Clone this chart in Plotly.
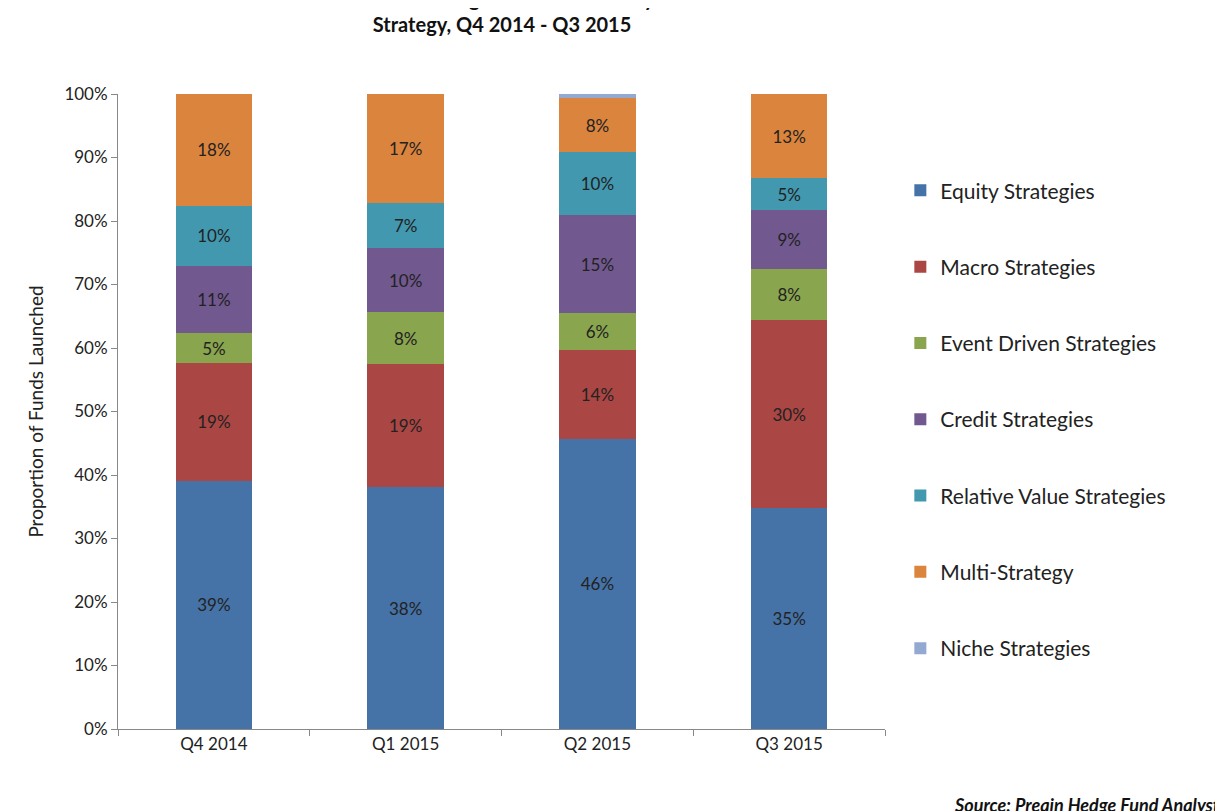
import plotly.graph_objects as go

quarters = ["Q4 2014", "Q1 2015", "Q2 2015", "Q3 2015"]
equity = [39.1, 38.1, 45.7, 34.8]
macro = [18.6, 19.4, 14.0, 29.6]
event = [4.6, 8.1, 5.8, 8.1]
credit = [10.6, 10.2, 15.4, 9.2]
relval = [9.5, 7.0, 10.0, 5.0]
multi = [17.6, 17.2, 8.4, 13.3]
niche = [0, 0, 0.7, 0]

series = [
    ("Equity Strategies", equity, "#4572A7", True),
    ("Macro Strategies", macro, "#AA4643", True),
    ("Event Driven Strategies", event, "#89A54E", True),
    ("Credit Strategies", credit, "#71588F", True),
    ("Relative Value Strategies", relval, "#4198AF", True),
    ("Multi-Strategy", multi, "#DB843D", True),
    ("Niche Strategies", niche, "#93A9CF", False),
]

fig = go.Figure()
for name, vals, color, labelled in series:
    fig.add_trace(go.Bar(
        x=quarters, y=vals, name=name, legendgroup=name,
        marker=dict(color=color, line=dict(width=0)),
        texttemplate="%{y:.0f}%" if labelled else None,
        textposition="inside" if labelled else "none",
        insidetextanchor="middle",
        textfont=dict(size=17, color="#222"),
    ))

fig.update_layout(
    barmode="stack", bargap=0.6,
    width=1223, height=811,
    font=dict(family="Lato, DejaVu Sans", size=17, color="#222"),
    paper_bgcolor="white", plot_bgcolor="white",
    margin=dict(l=110, r=346, t=86, b=90, autoexpand=False),
    yaxis=dict(range=[0, 100], dtick=10, ticksuffix="%", showgrid=False,
               showline=True, linecolor="#888", ticks="outside", ticklen=6, tickcolor="#888",
               title=dict(text="Proportion of Funds Launched", font=dict(size=19))),
    xaxis=dict(showline=True, linecolor="#888", ticks="outside", tickcolor="#888", ticklen=6,
               tickson="boundaries"),
    legend=dict(traceorder="reversed+grouped", x=1.02, y=0.88, yanchor="top",
                tracegroupgap=46, font=dict(size=21), itemwidth=30),
    uniformtext=dict(mode="show", minsize=10),
)
fig.add_annotation(text="<b>Breakdown of Hedge Fund Launches by Core<br>Strategy, Q4 2014 - Q3 2015</b>",
                   xref="paper", yref="paper", x=0.5, y=1.13, xanchor="center",
                   yanchor="middle", showarrow=False, font=dict(size=20, color="#111"))
fig.add_annotation(text="<b><i>Source: Preqin Hedge Fund Analyst</i></b>",
                   xref="paper", yref="paper", x=1.44, y=-0.12, xanchor="right",
                   yanchor="middle", showarrow=False, font=dict(size=18, color="#111"))

fig.write_html("out.html")
